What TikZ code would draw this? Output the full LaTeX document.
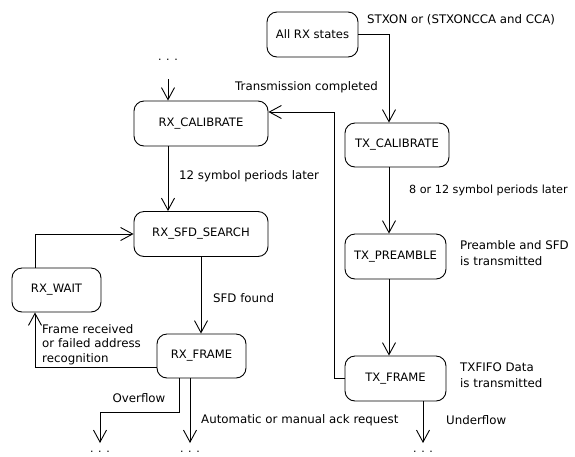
\documentclass[tikz,border=0pt]{standalone}
\usepackage{fontspec}
\setmainfont{DejaVu Sans}
\usetikzlibrary{arrows.meta}
\begin{document}
\begin{tikzpicture}[x=1pt,y=-1pt,
  state/.style={draw,rounded corners=10pt,line width=0.9pt,minimum height=45pt,inner sep=0pt,font=\fontsize{11.6}{13}\selectfont},
  lbl/.style={font=\fontsize{11.8}{16}\selectfont,inner sep=0pt,align=left,anchor=west},
  dots/.style={font=\fontsize{11}{13}\selectfont,inner sep=0pt},
  arr/.style={line width=0.9pt,-{Straight Barb[length=12pt,width=13pt]}}]
\useasboundingbox (0,0) rectangle (575,456);
% states
\node[state,minimum width=91pt]  (allrx)   at (312.5,34.5) {All RX states};
\node[state,minimum width=134pt] (rxcal)   at (201,123.5)  {RX\_CALIBRATE};
\node[state,minimum width=134pt] (rxsfd)   at (201,234)    {RX\_SFD\_SEARCH};
\node[state,minimum width=89pt,minimum height=44pt]  (rxwait)  at (56.5,290)   {RX\_WAIT};
\node[state,minimum width=89pt,minimum height=44pt]  (rxframe) at (201.5,356)  {RX\_FRAME};
\node[state,minimum width=104pt,minimum height=44pt] (txcal)   at (397,145)    {TX\_CALIBRATE};
\node[state,minimum width=101pt] (txpre)   at (395.5,256.5) {TX\_PREAMBLE};
\node[state,minimum width=101pt] (txframe) at (395.5,378.5) {TX\_FRAME};
% dots
\node[dots] (dtop) at (168,60) {. . .};
\node[dots] (dov)  at (100,452) {. . .};
\node[dots] (dack) at (190,452) {. . .};
\node[dots] (dund) at (423,452) {. . .};
\coordinate (ctop) at (168,79);
\coordinate (cov)  at (100,443);
\coordinate (cack) at (190,443);
\coordinate (cund) at (423,443);
\coordinate (ovbend) at (179,412);
\coordinate (turn) at (334,112);
% connectors
\draw[arr] (ctop) -- ([xshift=-33pt]rxcal.north);
\draw[arr] ([xshift=-33pt]rxcal.south) -- ([xshift=-33pt]rxsfd.north);
\draw[arr] (rxsfd.south) -- (rxsfd.south |- rxframe.north);
\draw[arr] ([xshift=-21.5pt]rxwait.north) |- (rxsfd.west);
\draw[arr] ([yshift=-11pt]rxframe.west) -| ([xshift=-21.5pt]rxwait.south);
\draw[arr] ([xshift=-22.5pt]rxframe.south) -- (ovbend) -| (cov);
\draw[arr] ([xshift=-11.5pt]rxframe.south) -- (cack);
\draw[arr] (allrx.east) -| ([xshift=-8pt]txcal.north);
\draw[arr] ([xshift=-8pt]txcal.south) -- ([xshift=-6.5pt]txpre.north);
\draw[arr] ([xshift=-6.5pt]txpre.south) -- ([xshift=-6.5pt]txframe.north);
\draw[arr] ([xshift=27.5pt]txframe.south) -- (cund);
\draw[arr] (txframe.west) -| (turn) -- ([yshift=11.5pt]rxcal.east);
% labels
\node[lbl] (l1) at (235,87) {Transmission completed};
\node[lbl] (l2) at (179,176) {12 symbol periods later};
\node[lbl] (l3) at (367,20) {STXON or (STXONCCA and CCA)};
\node[lbl,font=\fontsize{11.2}{14}\selectfont] (l4) at (409,190) {8 or 12 symbol periods later};
\node[lbl] (l5) at (460,253) {Preamble and SFD\\is transmitted};
\node[lbl] (l6) at (460,375) {TXFIFO Data\\is transmitted};
\node[lbl] (l7) at (213,298) {SFD found};
\node[lbl,font=\fontsize{11.8}{14.5}\selectfont] (l8) at (42,344.5) {Frame received\\or failed address\\recognition};
\node[lbl,anchor=center] (l9) at (139,398) {Overflow};
\node[lbl] (l10) at (201,420) {Automatic or manual ack request};
\node[lbl] (l11) at (446,420) {Underflow};
\end{tikzpicture}
\end{document}
